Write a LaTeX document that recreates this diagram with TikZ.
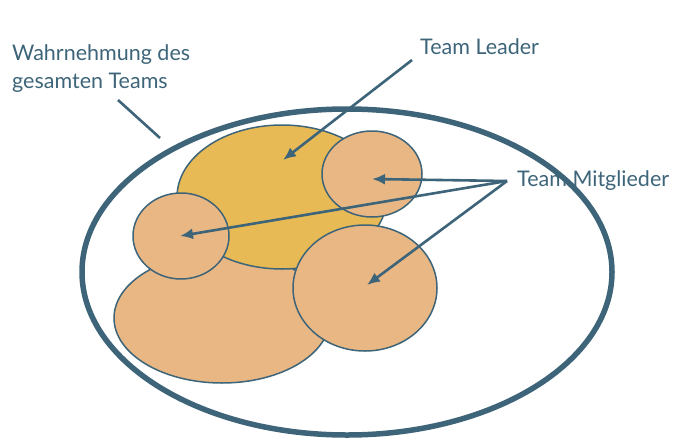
\documentclass[tikz,border=0pt]{standalone}
\usepackage{fontspec}
\setmainfont{Lato}
\usetikzlibrary{arrows.meta}
\definecolor{teal}{HTML}{3D6479}
\definecolor{gold}{HTML}{E8BA55}
\definecolor{tan}{HTML}{E8B784}
\tikzset{
  blob/.style={draw=teal,line width=1.5pt,fill=tan},
  lbl/.style={text=teal,font=\fontsize{21.5}{28}\selectfont,inner sep=0pt},
  arr/.style={draw=teal,line width=2.6pt,-{Latex[length=13pt,width=11pt]}}
}
\begin{document}
\begin{tikzpicture}[x=1pt,y=-1pt]
\useasboundingbox (0,0) rectangle (700,444);
\draw[teal,line width=5.5pt,fill=white] (347,272) ellipse [x radius=265,y radius=163];
\draw[blob] (222,318) ellipse [x radius=108,y radius=65];
\draw[blob,fill=gold] (282,197) ellipse [x radius=105,y radius=72];
\draw[blob] (372,174) ellipse [x radius=50,y radius=43];
\draw[blob] (181,236) ellipse [x radius=48,y radius=43];
\draw[blob] (365,288) ellipse [x radius=72,y radius=63];
\coordinate (leader) at (283,160);
\coordinate (m1) at (372,179);
\coordinate (m2) at (180,236);
\coordinate (m3) at (367,285);
\coordinate (wend) at (160,138);
\coordinate (tlstart) at (412,60);
\coordinate (tmstart) at (507,181);
\node[lbl,align=left,anchor=north west] (w) at (12,44) {Wahrnehmung des\\gesamten Teams};
\node[lbl,anchor=west] (tl) at (420,47) {Team Leader};
\node[lbl,anchor=west] (tm) at (517,181) {Team Mitglieder};
\draw[teal,line width=2.6pt] (118,100) -- (wend);
\draw[arr] (tlstart) -- (leader);
\draw[arr] (tmstart) -- (m1);
\draw[arr] (tmstart) -- (m2);
\draw[arr] (tmstart) -- (m3);
\end{tikzpicture}
\end{document}
